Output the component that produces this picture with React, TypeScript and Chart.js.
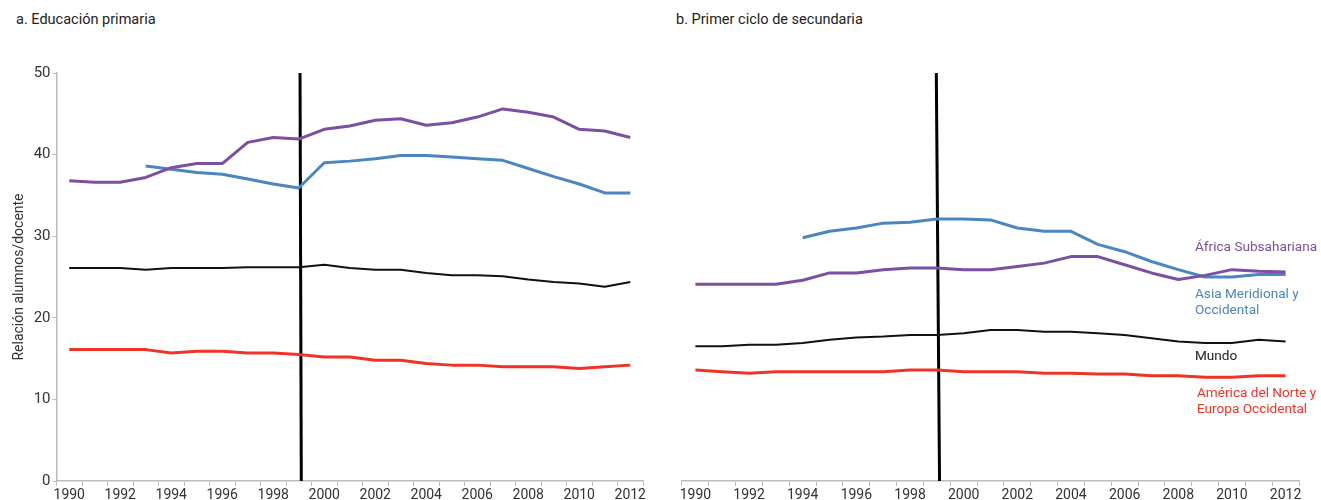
import React, { useEffect, useRef } from "react";
import { Chart, registerables } from "chart.js";

Chart.register(...registerables);

const years = [
  "1990", "1991", "1992", "1993", "1994", "1995", "1996", "1997", "1998", "1999", "2000",
  "2001", "2002", "2003", "2004", "2005", "2006", "2007", "2008", "2009", "2010", "2011", "2012",
];

const panelTitles = ["a. Educación primaria", "b. Primer ciclo de secundaria"];
const yAxisTitle = "Relación alumnos/docente";
const seriesNames = ["África Subsahariana", "Asia Meridional y Occidental", "Mundo", "América del Norte y Europa Occidental"];
const seriesLabelLines = [["África Subsahariana"], ["Asia Meridional y", "Occidental"], ["Mundo"], ["América del Norte y", "Europa Occidental"]];
const seriesLabelValues = [28.55, 22.8, 15.2, 10.66];

// a. Primary education
const primAfrica = [36.8, 36.6, 36.6, 37.2, 38.4, 38.9, 38.9, 41.5, 42.1, 41.9, 43.1, 43.5, 44.2, 44.4, 43.6, 43.9, 44.6, 45.6, 45.2, 44.6, 43.1, 42.9, 42.1];
const primAsia = [null, null, null, 38.6, 38.2, 37.8, 37.6, 37.0, 36.4, 35.9, 39.0, 39.2, 39.5, 39.9, 39.9, 39.7, 39.5, 39.3, 38.3, 37.3, 36.4, 35.3, 35.3];
const primWorld = [26.1, 26.1, 26.1, 25.9, 26.1, 26.1, 26.1, 26.2, 26.2, 26.2, 26.5, 26.1, 25.9, 25.9, 25.5, 25.2, 25.2, 25.1, 24.7, 24.4, 24.2, 23.8, 24.4];
const primNAWE = [16.1, 16.1, 16.1, 16.1, 15.7, 15.9, 15.9, 15.7, 15.7, 15.5, 15.2, 15.2, 14.8, 14.8, 14.4, 14.2, 14.2, 14.0, 14.0, 14.0, 13.8, 14.0, 14.2];

// b. Lower secondary
const secAfrica = [24.1, 24.1, 24.1, 24.1, 24.6, 25.5, 25.5, 25.9, 26.1, 26.1, 25.9, 25.9, 26.3, 26.7, 27.5, 27.5, 26.5, 25.5, 24.7, 25.2, 25.9, 25.7, 25.6];
const secAsia = [null, null, null, null, 29.8, 30.6, 31.0, 31.6, 31.7, 32.1, 32.1, 32.0, 31.0, 30.6, 30.6, 29.0, 28.1, 26.9, 25.9, 25.0, 25.0, 25.3, 25.3];
const secWorld = [16.5, 16.5, 16.7, 16.7, 16.9, 17.3, 17.6, 17.7, 17.9, 17.9, 18.1, 18.5, 18.5, 18.3, 18.3, 18.1, 17.9, 17.5, 17.1, 16.9, 16.9, 17.3, 17.1];
const secNAWE = [13.6, 13.4, 13.2, 13.4, 13.4, 13.4, 13.4, 13.4, 13.6, 13.6, 13.4, 13.4, 13.4, 13.2, 13.2, 13.1, 13.1, 12.9, 12.9, 12.7, 12.7, 12.9, 12.9];

// vertical break line (year position top, bottom) and its y-extent
const primBreakYears = [1999.05, 1999.1];
const secBreakYears = [1998.98, 1999.1];
const breakValues = [50, 0];

const COLORS = ["#7b4fa1", "#4a86c0", "#111111", "#ef3427"];
const FONT = "Roboto, 'Noto Sans', sans-serif";
const AXIS_GRAY = "#bdbdbd";

const seriesLabelPlugin = {
  id: "seriesLabels",
  afterDatasetsDraw(chart: any, _args: any, opts: any) {
    if (!opts || !opts.show) return;
    const { ctx, chartArea, scales } = chart;
    ctx.save();
    ctx.font = `13.6px ${FONT}`;
    ctx.textAlign = "left";
    ctx.textBaseline = "middle";
    seriesLabelLines.forEach((lines, i) => {
      const y0 = scales.y.getPixelForValue(seriesLabelValues[i]);
      const x = chartArea.left + (i === 3 ? 515 : 513);
      ctx.fillStyle = COLORS[i] === "#111111" ? "#222" : COLORS[i];
      lines.forEach((t, j) => ctx.fillText(t, x, y0 + j * 16));
    });
    ctx.restore();
  },
};

function buildConfig(
  data: (number | null)[][],
  breakYears: number[],
  showY: boolean,
  padding: { top: number; right: number; bottom: number; left: number },
  showLabels: boolean
): any {
  const datasets: any[] = data.map((d, i) => ({
    label: seriesNames[i],
    data: d,
    xAxisID: "x",
    yAxisID: "y",
    borderColor: COLORS[i],
    backgroundColor: COLORS[i],
    borderWidth: i === 2 ? 2 : 3,
    pointRadius: 0,
    tension: 0,
    borderJoinStyle: "round",
    fill: false,
  }));
  datasets.push({
    label: "break",
    data: breakYears.map((x, i) => ({ x, y: breakValues[i] })),
    xAxisID: "xv",
    yAxisID: "y",
    borderColor: "#000",
    borderWidth: 3,
    pointRadius: 0,
    fill: false,
  });
  return {
    type: "line",
    data: { labels: years, datasets },
    plugins: [seriesLabelPlugin],
    options: {
      responsive: false,
      animation: false,
      layout: { padding },
      plugins: {
        legend: { display: false },
        tooltip: { enabled: false },
        title: { display: false },
        seriesLabels: { show: showLabels },
      },
      scales: {
        x: {
          type: "category",
          offset: true,
          afterFit: (s: any) => {
            s.height = 19;
          },
          grid: {
            display: true,
            offset: true,
            drawOnChartArea: false,
            drawTicks: true,
            tickLength: 5,
            color: AXIS_GRAY,
          },
          border: { display: true, color: AXIS_GRAY, width: 1.5 },
          ticks: {
            autoSkip: false,
            maxRotation: 0,
            padding: 1,
            color: "#333",
            font: { family: FONT, size: 14 },
            callback: (_v: any, i: number) => (i % 2 === 0 ? years[i] : ""),
          },
        },
        xv: {
          type: "linear",
          axis: "x",
          display: false,
          min: 1989.5,
          max: 2012.5,
        },
        y: {
          display: showY,
          min: 0,
          max: 50,
          afterFit: (s: any) => {
            s.width = showY ? 56.5 : 0;
          },
          grid: {
            display: true,
            drawOnChartArea: false,
            drawTicks: true,
            tickLength: 4,
            color: AXIS_GRAY,
          },
          border: { display: true, color: AXIS_GRAY, width: 1.5 },
          ticks: {
            stepSize: 10,
            padding: 2,
            color: "#333",
            font: { family: FONT, size: 15 },
          },
          title: {
            display: true,
            text: yAxisTitle,
            color: "#333",
            font: { family: FONT, size: 14 },
            padding: { top: 11, bottom: 0 },
          },
        },
      },
    },
  };
}

export default function App() {
  const leftRef = useRef<HTMLCanvasElement>(null);
  const rightRef = useRef<HTMLCanvasElement>(null);

  useEffect(() => {
    const left = new Chart(
      leftRef.current as HTMLCanvasElement,
      buildConfig([primAfrica, primAsia, primWorld, primNAWE], primBreakYears, true, { top: 73, right: 17, bottom: 0, left: 0 }, false)
    );
    const right = new Chart(
      rightRef.current as HTMLCanvasElement,
      buildConfig([secAfrica, secAsia, secWorld, secNAWE], secBreakYears, false, { top: 73, right: 22, bottom: 0, left: 22 }, true)
    );
    return () => {
      left.destroy();
      right.destroy();
    };
  }, []);

  const titleStyle: React.CSSProperties = {
    position: "absolute",
    top: 10,
    fontFamily: FONT,
    fontSize: 14.5,
    lineHeight: "19px",
    color: "#222",
    whiteSpace: "nowrap",
  };

  return (
    <div style={{ position: "absolute", left: 0, top: 0, width: 1321, height: 500, background: "#fff", overflow: "hidden" }}>
      <div style={{ ...titleStyle, left: 16 }}>{panelTitles[0]}</div>
      <div style={{ ...titleStyle, left: 676 }}>{panelTitles[1]}</div>
      <canvas ref={leftRef} width={660} height={500} style={{ position: "absolute", left: 0, top: 0, width: 660, height: 500 }} />
      <canvas ref={rightRef} width={661} height={500} style={{ position: "absolute", left: 660, top: 0, width: 661, height: 500 }} />
    </div>
  );
}
